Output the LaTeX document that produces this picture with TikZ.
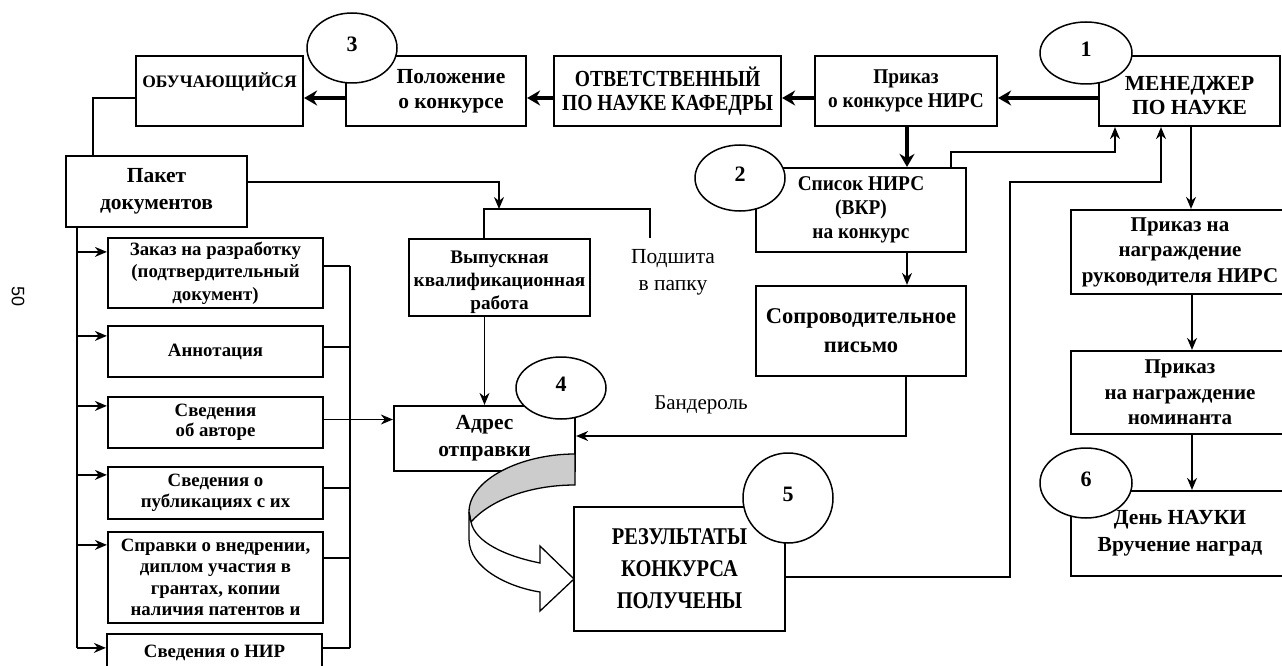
\documentclass[tikz,border=0pt]{standalone}
\usepackage{fontspec}
\setmainfont{Liberation Serif}
\setsansfont{Liberation Sans}
\newfontfamily\narrowserif[FakeStretch=0.85]{Liberation Serif}
\newfontfamily\semiserif[FakeStretch=0.92]{Liberation Serif}
\usepackage{tikz}
\usetikzlibrary{shapes,arrows.meta,calc}
\newcommand{\mainfnt}{\bfseries\fontsize{21.5}{25}\selectfont}
\newcommand{\listfnt}{\bfseries\fontsize{18.8}{22.5}\selectfont}
\newcommand{\narrowfnt}{\narrowserif\bfseries\fontsize{23}{24}\selectfont}
\newcommand{\plainfnt}{\fontsize{21.5}{27}\selectfont}
\newcommand{\dropline}[1]{\rule{0pt}{#1}}
\tikzstyle{box}=[draw, line width=2.2pt, inner sep=1pt, align=center, font=\mainfnt]
\tikzstyle{docbox}=[box, minimum width=215pt, font=\listfnt]
\tikzstyle{narrowbox}=[box, font=\narrowfnt]
\tikzstyle{balloon}=[draw, ellipse, line width=1.5pt, fill=white, inner sep=0pt, text depth=8pt, font=\bfseries\fontsize{22}{24}\selectfont]
\tikzstyle{link}=[line width=1.4pt]
\tikzstyle{linkarrow}=[line width=1.4pt, -{Stealth[length=12pt,width=10pt]}]
\tikzstyle{heavy}=[line width=3.5pt, -{Stealth[length=13pt,width=15pt]}]
\begin{document}
\begin{tikzpicture}[x=1pt, y=-1pt]
	\useasboundingbox (0,0) rectangle (1282,666);
	\node[font=\sffamily\fontsize{18}{20}\selectfont, rotate=-90] (page) at (18,297) {50};
%
	% top row
	\node[box, minimum width=167pt, minimum height=70pt, font=\bfseries\fontsize{17.5}{21}\selectfont] (stud) at (219.5,91) {ОБУЧАЮЩИЙСЯ\\\mbox{}};
	\node[box, minimum width=180pt, minimum height=70pt] (rule) at (436,91) {\hspace*{30pt}Положение\\\hspace*{30pt}о конкурсе};
	\node[narrowbox, minimum width=227pt, minimum height=70pt] (resp) at (667.5,91) {ОТВЕТСТВЕННЫЙ\\ПО НАУКЕ КАФЕДРЫ};
	\node[narrowbox, minimum width=182pt, minimum height=70pt, font=\semiserif\bfseries\fontsize{21}{24}\selectfont] (order) at (906,91) {Приказ\\о конкурсе НИРС};
	\node[box, minimum width=181pt, minimum height=70pt, font=\bfseries\fontsize{21.5}{24}\selectfont] (mgr) at (1189.5,91) {\dropline{24pt}МЕНЕДЖЕР\\ПО НАУКЕ};
%
	% middle
	\node[box, minimum width=181pt, minimum height=71pt, font=\bfseries\fontsize{21.5}{27}\selectfont] (pack) at (156.5,191.5) {Пакет\\документов};
	\node[narrowbox, minimum width=210pt, minimum height=84pt, font=\semiserif\bfseries\fontsize{21}{24}\selectfont] (list) at (861,210) {Список НИРС\\(ВКР)\\на конкурс};
	\node[box, minimum width=181pt, minimum height=77pt, font=\bfseries\fontsize{19.2}{23}\selectfont] (vkr) at (499.5,277.5) {\dropline{22pt}Выпускная\\квалификационная\\работа};
	\node[font=\plainfnt, align=center] (sew) at (673,272) {Подшита\\в папку};
	\node[narrowbox, minimum width=210pt, minimum height=90pt, font=\bfseries\fontsize{22.5}{29}\selectfont] (cover) at (861,331) {Сопроводительное\\письмо};
	\node[box, minimum width=181pt, minimum height=65pt, font=\bfseries\fontsize{21.5}{27}\selectfont] (addr) at (484.5,438.5) {Адрес\\отправки};
	\node[font=\fontsize{21}{24}\selectfont] (band) at (701,405) {Бандероль};
	\node[narrowbox, minimum width=211pt, minimum height=124pt, font=\narrowserif\bfseries\fontsize{24}{32}\selectfont] (res) at (679.5,569) {РЕЗУЛЬТАТЫ\\КОНКУРСА\\ПОЛУЧЕНЫ};
%
	% awards column
	\node[box, minimum width=218pt, minimum height=84pt, font=\bfseries\fontsize{21}{25.5}\selectfont] (awsup) at (1180,252) {Приказ на\\награждение\\руководителя НИРС};
	\node[box, minimum width=218pt, minimum height=83pt, font=\bfseries\fontsize{21}{25.5}\selectfont] (awnom) at (1180,392.5) {Приказ\\на награждение\\номинанта};
	\node[box, minimum width=218pt, minimum height=85pt, font=\bfseries\fontsize{21.5}{27}\selectfont] (day) at (1180,533.5) {День НАУКИ\\Вручение наград};
%
	% documents of the package
	\node[docbox, minimum height=70pt] (d1) at (215.5,273) {Заказ на разработку\\(подтвердительный\\документ)};
	\node[docbox, minimum height=51pt] (d2) at (215.5,351.5) {Аннотация};
	\node[docbox, minimum height=51pt, font=\bfseries\fontsize{18.8}{20.5}\selectfont] (d3) at (215.5,422.5) {Сведения\\об авторе};
	\node[docbox, minimum height=52pt, font=\bfseries\fontsize{18.8}{21}\selectfont] (d4) at (215.5,493) {Сведения о\\публикациях с их};
	\node[docbox, minimum height=91pt, font=\bfseries\fontsize{18.8}{21.3}\selectfont] (d5) at (215.5,577.5) {Справки о внедрении,\\диплом участия в\\грантах, копии\\наличия патентов и};
	\node[docbox, minimum height=56pt, font=\bfseries\fontsize{18.8}{21}\selectfont] (d6) at (214.5,662) {Сведения о НИР\\\mbox{}};
%
	% main chain
	\draw[heavy] ([yshift=-7pt]mgr.west) -- ([yshift=-7pt]order.east);
	\draw[heavy] ([yshift=-7pt]order.west) -- ([yshift=-7pt]resp.east);
	\draw[heavy] ([yshift=-7pt]resp.west) -- ([yshift=-7pt]rule.east);
	\draw[heavy] ([yshift=-7pt]rule.west) -- ([yshift=-7pt]stud.east);
	\draw[heavy] ([xshift=1pt]order.south) -- ([xshift=46pt]list.north);
%
	\draw[link] ([yshift=-7pt]stud.west) -| ([xshift=-63.5pt]pack.north);
	\coordinate (fork) at (499,209);
	\coordinate (fold) at (650,238);
	\draw[linkarrow] ([yshift=9.5pt]pack.east) -| (fork);
	\draw[link] ([xshift=-15.5pt]vkr.north) |- (fold |- fork) -- (fold);
	\draw[linkarrow] (vkr.south -| addr.north) -- (addr.north);
	\draw[linkarrow] ([xshift=46pt]list.south) -- ([xshift=46pt]cover.north);
	\draw[linkarrow] ([xshift=45pt]cover.south) |- ([yshift=2.5pt]addr.east);
	\draw[linkarrow] ([xshift=90pt]list.north) -- ++(0,-15) -| ([xshift=-74.5pt]mgr.south);
	\draw[linkarrow] ([yshift=-8pt]res.east) -| (1010,182) -| ([xshift=-28.5pt]mgr.south);
	\draw[linkarrow] ([xshift=1.5pt]mgr.south) -- ([xshift=1.5pt]mgr.south |- awsup.north);
	\draw[linkarrow] ([xshift=12pt]awsup.south) -- ([xshift=12pt]awnom.north);
	\draw[linkarrow] ([xshift=12pt]awnom.south) -- ([xshift=12pt]day.north);
%
	% package into documents
	\coordinate (trunk) at (77,0);
	\coordinate (bus) at (350,0);
	\foreach \d/\o in {d1/15, d2/11, d3/10, d4/9, d5/14, d6/15} {
		\coordinate (\d-in) at ([yshift=-\o pt]\d.north west);
		\draw[linkarrow] (\d-in -| trunk) -- (\d-in);
	}
	\draw[link] ([xshift=-79.5pt]pack.south) -- (d6-in -| trunk);
	\foreach \d/\o in {d1/29, d2/22, d4/22, d5/27, d6/15} {
		\coordinate (\d-out) at ([yshift=-\o pt]\d.north east);
		\draw[link] (\d-out) -- (\d-out -| bus);
	}
	\draw[link] (d1-out -| bus) -- (d6-out -| bus);
	\coordinate (d3-out) at ([yshift=3pt]d3.east);
	\draw[linkarrow] (d3-out) -- (addr.west |- d3-out);
%
	% turn-over ribbon
	\filldraw[fill=gray!40, line width=1.3pt] (575,454) .. controls (520,454) and (469,480) .. (469,512)
		-- (471,522) .. controls (490,500) and (530,485) .. (575,485) -- cycle;
	\filldraw[fill=white, line width=1.3pt] (469,512) -- (469,539) .. controls (469,568) and (508,587) .. (540,592)
		-- (540,611) -- (574,579) -- (540,546) -- (540,563) .. controls (505,556) and (475,542) .. (471,522) -- cycle;
%
	% stages
	\node[balloon, minimum width=90pt, minimum height=70pt] (s3) at (352,48) {3};
	\node[balloon, minimum width=92pt, minimum height=62pt] (s1) at (1086,53) {1};
	\node[balloon, minimum width=90pt, minimum height=66pt] (s2) at (740,178) {2};
	\node[balloon, minimum width=90pt, minimum height=62pt] (s4) at (561,388) {4};
	\node[balloon, minimum width=90pt, minimum height=90pt] (s5) at (788,498) {5};
	\node[balloon, minimum width=92pt, minimum height=70pt] (s6) at (1086,483) {6};
\end{tikzpicture}
\end{document}
